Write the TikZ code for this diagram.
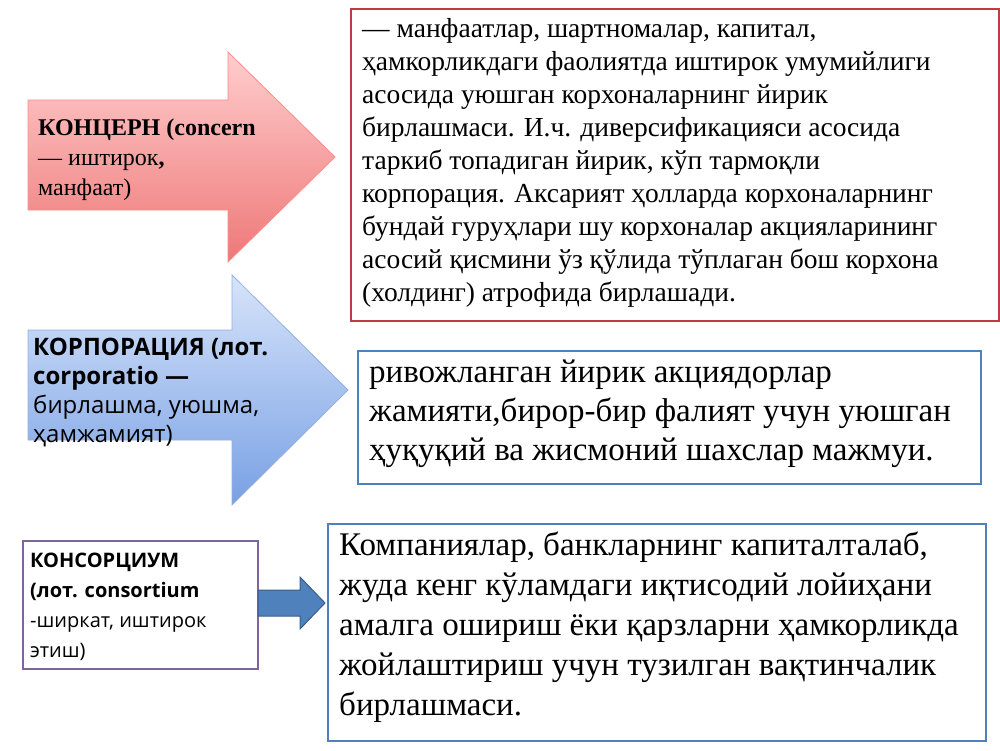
\documentclass[tikz,border=0pt]{standalone}
\usepackage{fontspec}
\setmainfont{Liberation Serif}
\newfontfamily\sansf{Open Sans}
\begin{document}
\begin{tikzpicture}[x=1pt,y=-1pt,
  arrowred/.style={draw=red!45!white,line width=0.8pt,top color={rgb,255:red,255;green,205;blue,205},bottom color={rgb,255:red,238;green,120;blue,120}},
  arrowblue/.style={draw={rgb,255:red,150;green,175;blue,220},line width=0.8pt,top color={rgb,255:red,215;green,228;blue,250},bottom color={rgb,255:red,120;green,160;blue,228}},
  txt/.style={anchor=north west,align=left,inner sep=0pt}]
\useasboundingbox (0,0) rectangle (1000,750);
% arrow 1
\path[arrowred] (28,100) -- (228,100) -- (228,52) -- (335,157) -- (228,262) -- (228,210) -- (28,210) -- cycle;
\node[txt,font=\fontsize{24}{30}\selectfont] (t1) at (38,119) {\textbf{КОНЦЕРН (concern}\\— иштирок\textbf{,}\\манфаат)};
% box 1
\node[draw={rgb,255:red,190;green,60;blue,70},line width=1.5pt,minimum width=648pt,minimum height=312pt,anchor=north west] (b1) at (350,8) {};
\node[txt,font=\fontsize{27.5}{33}\selectfont] (bt1) at (362,18) {— манфаатлар, шартномалар, капитал,\\ҳамкорликдаги фаолиятда иштирок умумийлиги\\асосида уюшган корхоналарнинг йирик\\бирлашмаси. И.ч. диверсификацияси асосида\\таркиб топадиган йирик, кўп тармоқли\\корпорация. Аксарият ҳолларда корхоналарнинг\\бундай гуруҳлари шу корхоналар акцияларининг\\асосий қисмини ўз қўлида тўплаган бош корхона\\(холдинг) атрофида бирлашади.};
% arrow 2
\path[arrowblue] (28,330) -- (232,330) -- (232,275) -- (348,390) -- (232,505) -- (232,440) -- (28,440) -- cycle;
\node[txt,font=\sansf\fontsize{24}{29}\selectfont] (t2) at (33,338) {\textbf{КОРПОРАЦИЯ (лот.}\\\textbf{corporatio —}\\бирлашма, уюшма,\\ҳамжамият)};
% box 2
\node[draw={rgb,255:red,79;green,129;blue,189},line width=1.5pt,minimum width=623pt,minimum height=133pt,anchor=north west] (b2) at (357,350) {};
\node[txt,font=\fontsize{33}{39}\selectfont] (bt2) at (369,360) {ривожланган йирик акциядорлар\\жамияти,бирор-бир фалият учун уюшган\\ҳуқуқий ва жисмоний шахслар мажмуи.};
% box 3
\node[draw={rgb,255:red,128;green,100;blue,162},line width=1.5pt,minimum width=235pt,minimum height=128pt,anchor=north west] (b3) at (22,540) {};
\node[txt,font=\sansf\fontsize{20}{30}\selectfont] (t3) at (30,553) {\textbf{КОНСОРЦИУМ}\\\textbf{(лот. consortium}\\-ширкат, иштирок\\этиш)};
% small arrow
\path[draw={rgb,255:red,56;green,93;blue,138},line width=1pt,fill={rgb,255:red,79;green,129;blue,189}] (258,590) -- (300,590) -- (300,577) -- (325,603) -- (300,629) -- (300,616) -- (258,616) -- cycle;
% box 4
\node[draw={rgb,255:red,79;green,129;blue,189},line width=1.5pt,minimum width=658pt,minimum height=217pt,anchor=north west] (b4) at (327,523) {};
\node[txt,font=\fontsize{33}{40}\selectfont] (bt4) at (339,532) {Компаниялар, банкларнинг капиталталаб,\\жуда кенг кўламдаги иқтисодий лойиҳани\\амалга ошириш ёки қарзларни ҳамкорликда\\жойлаштириш учун тузилган вақтинчалик\\бирлашмаси.};
\end{tikzpicture}
\end{document}
